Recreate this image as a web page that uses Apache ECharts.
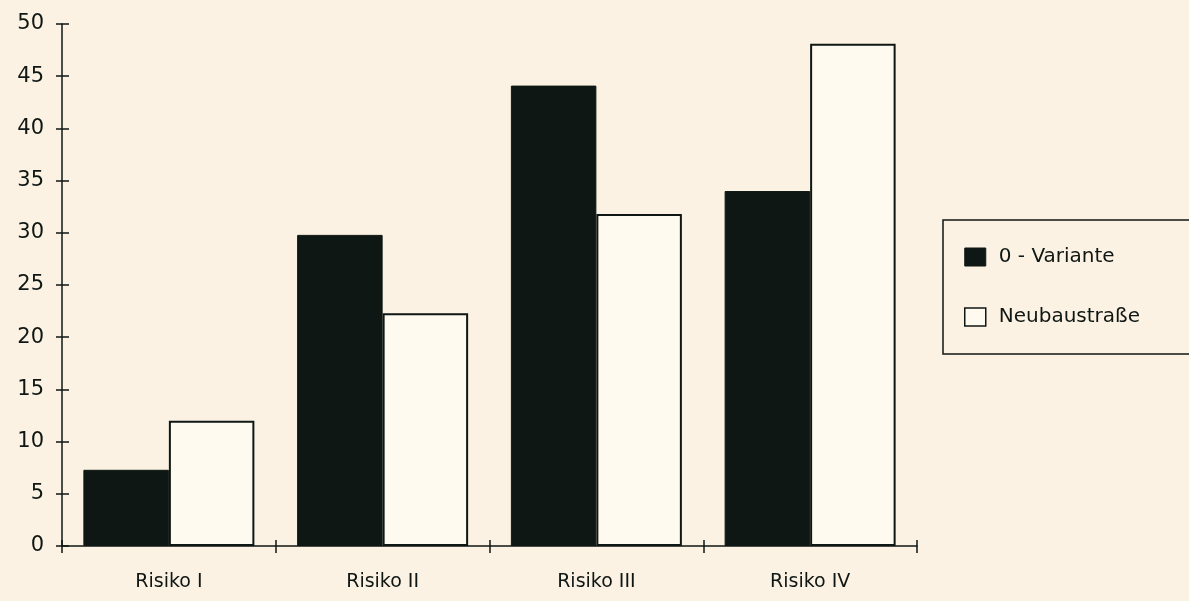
<!DOCTYPE html>
<html>
<head>
<meta charset="utf-8">
<script src="https://cdn.jsdelivr.net/npm/echarts@6/dist/echarts.min.js"></script>
<style>
  html, body { margin: 0; padding: 0; background: #fcf2e3; }
  #chart { width: 1189px; height: 601px; }
</style>
</head>
<body>
<div id="chart"></div>
<script>
// Risk categories and shares per scenario
const categories = ['Risiko I', 'Risiko II', 'Risiko III', 'Risiko IV'];
const nullVariante = [7.3, 29.8, 44.1, 34.0];
const neubaustrasse = [12.0, 22.3, 31.8, 48.1];
const seriesNames = ['0 - Variante', 'Neubaustraße'];

const ink = '#0f1714';
const font = 'DejaVu Sans';

const chart = echarts.init(document.getElementById('chart'));
chart.setOption({
  backgroundColor: '#fcf2e3',
  animation: false,
  textStyle: { fontFamily: font, color: ink },
  grid: { left: 62, right: 272, top: 24, bottom: 55, containLabel: false },
  legend: {
    orient: 'vertical',
    left: 943,
    top: 220,
    padding: [27, 80, 27, 21],
    itemWidth: 21,
    itemHeight: 18,
    itemGap: 40,
    borderColor: ink,
    borderWidth: 1.5,
    textStyle: { fontFamily: font, fontSize: 20, color: ink, padding: [0, 0, 0, 8] },
    data: [
      { name: seriesNames[0], icon: 'rect', itemStyle: { color: ink, borderColor: ink, borderWidth: 1 } },
      { name: seriesNames[1], icon: 'rect', itemStyle: { color: '#fffaf0', borderColor: ink, borderWidth: 1.5 } }
    ]
  },
  xAxis: [
    {
      type: 'category',
      data: categories,
      axisLine: { lineStyle: { color: ink, width: 1.5 } },
      axisTick: { show: true, length: 7, lineStyle: { color: ink, width: 1.5 } },
      axisLabel: { fontFamily: font, fontSize: 19, color: ink, margin: 27 }
    },
    {
      type: 'category',
      data: categories,
      position: 'bottom',
      axisLine: { show: false },
      axisTick: { show: true, inside: true, length: 6, lineStyle: { color: ink, width: 1.5 } },
      axisLabel: { show: false }
    }
  ],
  yAxis: [
    {
      type: 'value',
      min: 0, max: 50, interval: 5,
      axisLine: { show: true, lineStyle: { color: ink, width: 1.5 } },
      axisTick: { show: true, length: 6, lineStyle: { color: ink, width: 1.5 } },
      splitLine: { show: false },
      axisLabel: { fontFamily: font, fontSize: 21, color: ink, margin: 18 }
    },
    {
      type: 'value',
      min: 0, max: 50, interval: 5,
      position: 'left',
      axisLine: { show: false },
      axisTick: { show: true, inside: true, length: 7, lineStyle: { color: ink, width: 1.5 } },
      splitLine: { show: false },
      axisLabel: { show: false }
    }
  ],
  series: [
    {
      name: seriesNames[0],
      type: 'bar',
      data: nullVariante,
      barGap: '0%',
      barCategoryGap: '20%',
      itemStyle: { color: ink, borderColor: ink, borderWidth: 1 }
    },
    {
      name: seriesNames[1],
      type: 'bar',
      data: neubaustrasse,
      barGap: '0%',
      barCategoryGap: '20%',
      itemStyle: { color: '#fffaf0', borderColor: ink, borderWidth: 2 }
    }
  ]
});
</script>
</body>
</html>
